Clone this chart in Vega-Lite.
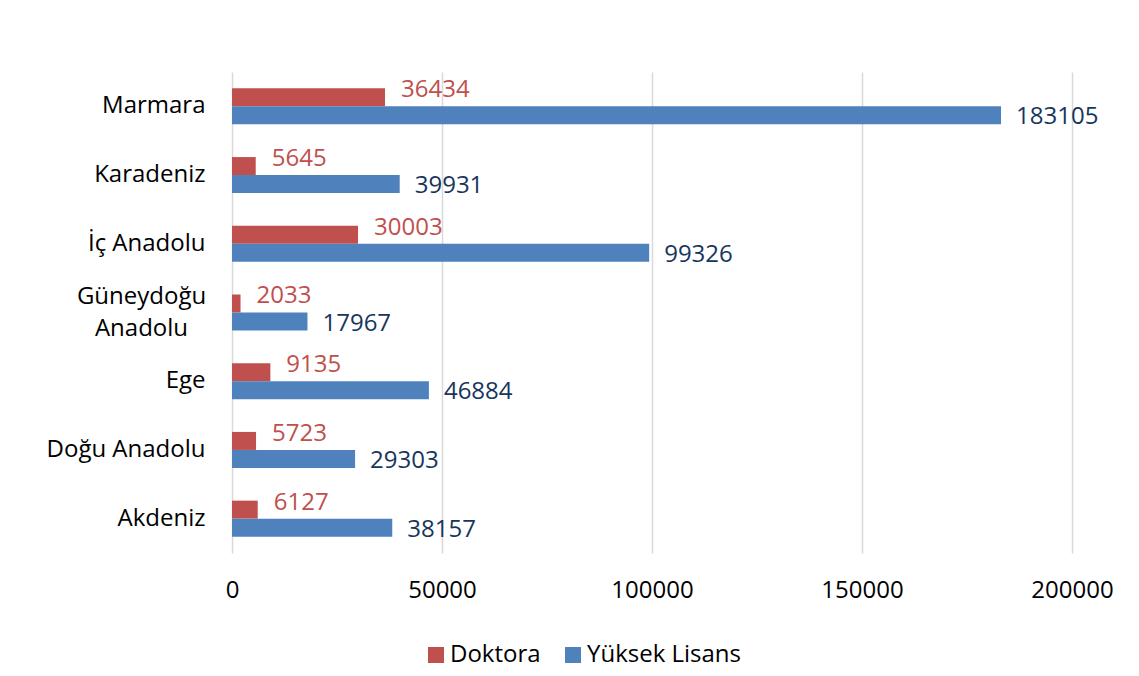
{
  "$schema": "https://vega.github.io/schema/vega-lite/v6.json",
  "autosize": {"type": "none"},
  "width": 840,
  "height": 481,
  "padding": {"left": 232, "top": 72, "right": 67, "bottom": 123},
  "background": "white",
  "config": {
    "font": "Open Sans",
    "view": {"stroke": null}
  },
  "data": {
    "values": [
      {"region": "Marmara", "series": "Doktora", "value": 36434},
      {"region": "Marmara", "series": "Yüksek Lisans", "value": 183105},
      {"region": "Karadeniz", "series": "Doktora", "value": 5645},
      {"region": "Karadeniz", "series": "Yüksek Lisans", "value": 39931},
      {"region": "İç Anadolu", "series": "Doktora", "value": 30003},
      {"region": "İç Anadolu", "series": "Yüksek Lisans", "value": 99326},
      {"region": "Güneydoğu Anadolu", "series": "Doktora", "value": 2033},
      {"region": "Güneydoğu Anadolu", "series": "Yüksek Lisans", "value": 17967},
      {"region": "Ege", "series": "Doktora", "value": 9135},
      {"region": "Ege", "series": "Yüksek Lisans", "value": 46884},
      {"region": "Doğu Anadolu", "series": "Doktora", "value": 5723},
      {"region": "Doğu Anadolu", "series": "Yüksek Lisans", "value": 29303},
      {"region": "Akdeniz", "series": "Doktora", "value": 6127},
      {"region": "Akdeniz", "series": "Yüksek Lisans", "value": 38157}
    ]
  },
  "encoding": {
    "y": {
      "field": "region",
      "type": "nominal",
      "sort": ["Marmara", "Karadeniz", "İç Anadolu", "Güneydoğu Anadolu", "Ege", "Doğu Anadolu", "Akdeniz"],
      "scale": {"paddingInner": 0.476, "paddingOuter": 0.238},
      "axis": {
        "title": null,
        "domain": false,
        "ticks": false,
        "labelFontSize": 24,
        "labelColor": "#000000",
        "labelPadding": {"condition": {"test": "datum.value == 'Güneydoğu Anadolu'", "value": 91}, "value": 27},
        "labelAlign": {"condition": {"test": "datum.value == 'Güneydoğu Anadolu'", "value": "center"}, "value": "right"},
        "labelLineHeight": 32,
        "labelOffset": {"condition": {"test": "datum.value == 'Güneydoğu Anadolu'", "value": -16}, "value": 0},
        "labelExpr": "datum.label == 'Güneydoğu Anadolu' ? ['Güneydoğu', 'Anadolu'] : datum.label"
      }
    },
    "yOffset": {
      "field": "series",
      "type": "nominal",
      "sort": ["Doktora", "Yüksek Lisans"],
      "scale": {"paddingInner": 0, "paddingOuter": 0}
    },
    "x": {
      "field": "value",
      "type": "quantitative",
      "scale": {"domain": [0, 200000], "nice": false},
      "axis": {
        "title": null,
        "domain": false,
        "ticks": false,
        "values": [0, 50000, 100000, 150000, 200000],
        "format": "d",
        "labelFontSize": 24,
        "labelColor": "#000000",
        "labelPadding": 25,
        "grid": true,
        "gridColor": "#d9d9d9",
        "gridWidth": 1.5,
        "labelFlush": false
      }
    }
  },
  "layer": [
    {
      "mark": {"type": "bar"},
      "encoding": {
        "color": {
          "field": "series",
          "type": "nominal",
          "sort": ["Doktora", "Yüksek Lisans"],
          "scale": {"domain": ["Doktora", "Yüksek Lisans"], "range": ["#c0504d", "#4f81bd"]},
          "legend": {
            "title": null,
            "orient": "none",
            "direction": "horizontal",
            "legendX": 192,
            "legendY": 571,
            "symbolType": "square",
            "symbolSize": 256,
            "symbolStrokeWidth": 0,
            "labelFontSize": 24,
            "labelColor": "#000000",
            "labelOffset": 2,
            "columnPadding": 20
          }
        }
      }
    },
    {
      "transform": [{"filter": "datum.series == 'Doktora'"}],
      "mark": {"type": "text", "align": "left", "baseline": "middle", "dx": 16, "dy": -7, "fontSize": 24, "color": "#c0504d"},
      "encoding": {"text": {"field": "value", "type": "quantitative", "format": "d"}}
    },
    {
      "transform": [{"filter": "datum.series == 'Yüksek Lisans'"}],
      "mark": {"type": "text", "align": "left", "baseline": "middle", "dx": 15, "dy": 2, "fontSize": 24, "color": "#17365d"},
      "encoding": {"text": {"field": "value", "type": "quantitative", "format": "d"}}
    }
  ]
}
